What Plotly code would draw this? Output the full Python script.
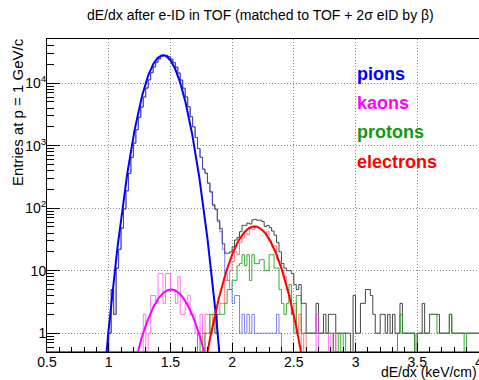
import numpy as np
import plotly.graph_objects as go

# Histogram binning (dE/dx in keV/cm)
X_MIN, X_MAX = 0.5, 4.0
BIN_WIDTH = 0.02
N_BINS = 175
Y_MIN, Y_MAX = 0.5, 5.09e4

# Bin contents, listed from the lower edge given by *_start
pion_start = 0.98
pion_counts = [0, 1, 5, 2, 11, 22, 48, 97, 190, 360, 650, 1100, 1800, 2850, 4150,
               6000, 8350, 11300, 14700, 18200, 21600, 24500, 26800, 27900, 27800,
               26600, 24300, 21400, 18000, 14500, 11200, 8300, 6000, 4200, 2900,
               2000, 1350, 900, 650, 420, 360, 250, 180, 110, 95, 60, 42, 22, 9, 7,
               5, 3, 4, 4, 1, 2, 1, 2, 1, 2, 1, 1, 1, 1, 1, 1, 1, 1, 1, 2, 1]

kaon_start = 1.24
kaon_counts = [0, 0, 2, 0, 1, 4, 4, 3, 9, 9, 3, 9, 9, 5, 5, 3, 8, 2, 2, 3, 4, 2, 2,
               1, 1, 2, 1]
kaon_tail_start = 2.68
kaon_tail_counts = [2, 0, 0, 0, 0, 1, 0, 1]

proton_start = 1.72
proton_counts = [1, 0, 0, 1, 1, 2, 2, 1, 2, 2, 2, 3, 5, 5, 7, 7, 12, 13, 18, 12, 18,
                 7, 18, 13, 13, 15, 15, 10, 10, 18, 18, 11, 11, 5, 3, 2, 3, 6, 2, 1,
                 4, 4, 1, 1, 1, 1, 1, 1, 1, 1, 1, 1, 1, 1, 1, 0, 0, 1, 0, 1,
                 0, 0, 0, 0, 0, 0, 0, 0, 0, 0, 0, 0, 0, 0, 0, 0, 0, 0, 0, 0, 0,
                 1, 2, 1, 1, 1, 1, 1, 0, 1, 1, 1, 1, 1, 2, 2, 2, 1, 1, 1, 1, 1, 2,
                 1, 1, 1, 1, 1, 0, 1, 1, 1, 1, 1]

electron_start = 1.76
electron_counts = [1, 2, 2, 1, 2, 1, 2, 3, 3, 7, 7, 10, 14, 20, 18, 28, 33, 40, 38,
                   48, 45, 52, 50, 48, 45, 40, 42, 30, 24, 25, 15, 14, 10, 8, 5, 4,
                   2, 3, 1, 2, 0, 1, 0, 0, 0, 0, 0, 0, 0, 0, 0, 0, 0, 1]

# entries without a species assignment (included in the total only)
other_start = 2.40
other_counts = [0, 1, 2, 0, 5, 2, 0, 0, 2, 1, 0, 0, 0, 0, 0, 0, 0, 1, 0, 0, 1, 0, 1,
                0, 1, 0, 1, 1, 0, 4, 1, 1, 3, 3, 5, 5, 4, 2, 1, 1, 2, 2, 1, 2, 1, 2,
                1, 0, 1, 0, 0, 0, 0, 0, 0, 0, 0, 2, 0, 0, 0, 0, 0, 1, 0, 0, 0, 0, 0,
                0, 0, 0, 0, 0, 1, 0, 0, 0, 0, 0]

# Gaussian fit results: (constant, mean, sigma)
pion_fit = (28000, 1.44, 0.098)
kaon_fit = (5.0, 1.505, 0.126)
electron_fit = (51, 2.18, 0.125)
pion_fit_range = (0.9, 2.0)
kaon_fit_range = (1.2, 1.8)
electron_fit_range = (1.75, 2.6)

x_tick_vals = [0.5, 1.0, 1.5, 2.0, 2.5, 3.0, 3.5, 4.0]
x_tick_text = ["0.5", "1", "1.5", "2", "2.5", "3", "3.5", "4"]
y_tick_vals = [1, 10, 100, 1000, 10000]
y_tick_text = ["1", "10", "10<sup>2</sup>", "10<sup>3</sup>", "10<sup>4</sup>"]

FONT = "Liberation Sans"
BLUE, MAGENTA, GREEN, RED = "#0000ff", "#ff00ff", "#119911", "#ff0000"


def book(start, counts, hist=None):
    hist = np.zeros(N_BINS) if hist is None else hist
    i0 = int(round((start - X_MIN) / BIN_WIDTH))
    hist[i0:i0 + len(counts)] += np.asarray(counts, dtype=float)
    return hist


pions = book(pion_start, pion_counts)
kaons = book(kaon_tail_start, kaon_tail_counts, book(kaon_start, kaon_counts))
protons = book(proton_start, proton_counts)
electrons = book(electron_start, electron_counts)
others = book(other_start, other_counts)
total = pions + kaons + protons + electrons + others

edges = X_MIN + BIN_WIDTH * np.arange(N_BINS + 1)


def step_trace(counts, color, width=1):
    y = np.append(counts, counts[-1])
    # empty bins sit on the lower edge of the log axis
    y = np.where(y > 0, y, Y_MIN * 1.01)
    return go.Scatter(x=edges, y=y, mode="lines", line=dict(color=color, width=width, shape="hv"),
                      hoverinfo="skip", showlegend=False)


def gauss_trace(params, xr, color):
    a, m, s = params
    x = np.linspace(xr[0], xr[1], 500)
    y = a * np.exp(-0.5 * ((x - m) / s) ** 2)
    return go.Scatter(x=x, y=y, mode="lines", line=dict(color=color, width=2),
                      hoverinfo="skip", showlegend=False)


fig = go.Figure()
fig.add_trace(step_trace(total, "rgba(40,40,40,0.85)"))
fig.add_trace(step_trace(pions, "rgba(60,60,255,0.65)"))
fig.add_trace(step_trace(kaons, "rgba(255,60,255,0.7)"))
fig.add_trace(step_trace(electrons, "rgba(255,70,70,0.7)"))
fig.add_trace(step_trace(protons, "rgba(20,160,20,0.85)"))
fig.add_trace(gauss_trace(pion_fit, pion_fit_range, BLUE))
fig.add_trace(gauss_trace(kaon_fit, kaon_fit_range, MAGENTA))
fig.add_trace(gauss_trace(electron_fit, electron_fit_range, RED))

y_minor = [k * 10.0 ** n for n in range(-1, 5) for k in range(2, 10)
           if Y_MIN < k * 10.0 ** n < Y_MAX]

fig.update_layout(
    width=479, height=380,
    margin=dict(l=47, r=0, t=39, b=28, autoexpand=False),
    paper_bgcolor="white", plot_bgcolor="white",
    font=dict(family=FONT, size=14, color="black"),
    xaxis=dict(
        range=[X_MIN, X_MAX + 0.0005], tickmode="array", tickvals=x_tick_vals,
        ticktext=x_tick_text, ticks="inside", ticklen=9, tickcolor="black",
        showline=True, linecolor="black", mirror=True, showgrid=True, gridcolor="#888",
        griddash="1px,2px", gridwidth=1, zeroline=False, tickfont=dict(size=14),
        automargin=False, ticklabelstandoff=-3, ticklabeloverflow="allow",
        minor=dict(tick0=0.5, dtick=0.1, ticks="inside", ticklen=5, tickcolor="black",
                   showgrid=False),
    ),
    yaxis=dict(
        type="log", range=[np.log10(Y_MIN), np.log10(Y_MAX)], tickmode="array",
        tickvals=y_tick_vals, ticktext=y_tick_text, ticks="inside", ticklen=13,
        tickcolor="black", showline=True, linecolor="black", mirror=True,
        showgrid=True, gridcolor="#888", griddash="1px,2px", gridwidth=1,
        zeroline=False, tickfont=dict(size=14), automargin=False, ticklabelstandoff=-3,
        minor=dict(tickmode="array", tickvals=y_minor, ticks="inside", ticklen=7,
                   tickcolor="black", showgrid=False),
    ),
)

annotations = [
    dict(text="dE/dx after e-ID in TOF (matched to TOF + 2\u03c3 eID by \u03b2)",
         x=(260.5 - 47) / 432, y=(352 - 15) / 313, xanchor="center", yanchor="middle",
         font=dict(size=14)),
    dict(text="dE/dx (keV/cm)", x=(479 - 47) / 432, y=(352 - 371.5) / 313,
         xanchor="right", yanchor="middle", font=dict(size=14)),
    dict(text="Entries at p = 1 GeV/c", textangle=-90, x=(17 - 47) / 432,
         y=(352 - 36) / 313, xanchor="center", yanchor="top", font=dict(size=15)),
]
labels = [("pions", BLUE, 74), ("kaons", MAGENTA, 103), ("protons", GREEN, 132),
          ("electrons", RED, 162)]
for txt, col, ypx in labels:
    annotations.append(dict(text="<b>%s</b>" % txt, x=(355 - 47) / 432, y=(352 - ypx) / 313,
                            xanchor="left", yanchor="middle",
                            font=dict(size=18, color=col)))
for a in annotations:
    a.update(xref="paper", yref="paper", showarrow=False)
fig.update_layout(annotations=annotations)

fig.write_html("out.html")
